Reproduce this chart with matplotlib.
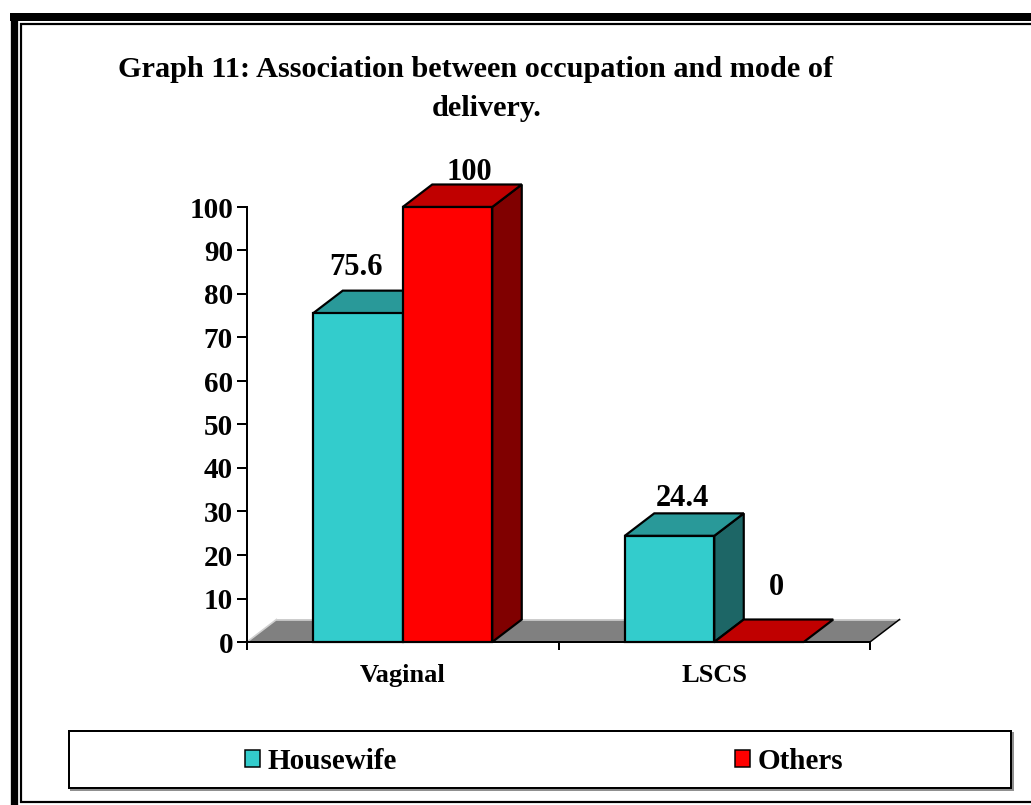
import matplotlib
matplotlib.use("Agg")
import matplotlib.pyplot as plt
from matplotlib.patches import Polygon, Rectangle, Patch
from matplotlib.lines import Line2D

# ---------------- data ----------------
title_lines = ["Graph 11: Association between occupation and mode of", "delivery."]
categories = ["Vaginal", "LSCS"]
series_names = ["Housewife", "Others"]
housewife = [75.6, 24.4]
others = [100, 0]
y_ticks = [0, 10, 20, 30, 40, 50, 60, 70, 80, 90, 100]

# ---------------- style ----------------
face_colors = ["#33CCCC", "#FF0000"]
top_colors = ["#299999", "#C00000"]
side_colors = ["#1D6666", "#800000"]
floor_color = "#808080"
# label offsets (pixels) relative to bar front-top centre, per series/category
label_dx = [[-2, 13], [22, 17]]
label_dy = [[38, 30], [27, 47]]

W, H = 1031, 805
plt.rcParams['font.family'] = ['Liberation Serif', 'DejaVu Serif']
plt.rcParams['font.weight'] = 'bold'
fig = plt.figure(figsize=(W / 100, H / 100), dpi=100)

# frame overlay axes in pixel coords
ov = fig.add_axes([0, 0, 1, 1])
ov.set_xlim(0, W)
ov.set_ylim(H, 0)
ov.axis('off')
px = 0.72  # points per pixel
ov.add_line(Line2D([13.7, 13.7], [13, H + 5], lw=7.3 * px, color='black', solid_capstyle='butt'))
ov.add_line(Line2D([10, W + 5], [17, 17], lw=8 * px, color='black', solid_capstyle='butt'))
ov.add_line(Line2D([21, 21], [23, 803], lw=2.2 * px, color='black', solid_capstyle='butt'))
ov.add_line(Line2D([20, W + 5], [24, 24], lw=2.2 * px, color='black', solid_capstyle='butt'))
ov.add_line(Line2D([20, W + 5], [802, 802], lw=2.2 * px, color='black', solid_capstyle='butt'))

# legend box with shadow
lx0, lx1, ly0, ly1 = 69, 1011, 731, 788
ov.add_patch(Rectangle((lx0 + 2, ly0 + 2), lx1 - lx0, ly1 - ly0, facecolor='none',
                       edgecolor='#909090', lw=2 * px))
ov.add_patch(Rectangle((lx0, ly0), lx1 - lx0, ly1 - ly0, facecolor='white',
                       edgecolor='black', lw=2 * px))

# title
ov.text(475.5, 77, title_lines[0], ha='center', va='baseline', fontsize=21.8, fontweight='bold')
ov.text(486.5, 116, title_lines[1], ha='center', va='baseline', fontsize=21.8, fontweight='bold')

# ---------------- main axes ----------------
ax_l, ax_r, ax_b, ax_t = 247, 870, 642, 207
ax = fig.add_axes([ax_l / W, 1 - ax_b / H, (ax_r - ax_l) / W, (ax_b - ax_t) / H])
n = len(categories)
ax.set_xlim(0, n)
ax.set_ylim(0, 100)
ax.patch.set_visible(False)
for s in ['top', 'right']:
    ax.spines[s].set_visible(False)
for s in ['left', 'bottom']:
    ax.spines[s].set_linewidth(2 * px)
    ax.spines[s].set_zorder(10)

ppx = (ax_r - ax_l) / n      # pixels per x unit
ppy = (ax_b - ax_t) / 100.0  # pixels per y unit
dx = 29.5 / ppx
dy = 22.5 / ppy
bw = 89.5 / ppx

# floor
ax.add_patch(Polygon([(0, 0), (n, 0), (n + dx, dy), (dx, dy)], closed=True,
                     facecolor=floor_color, edgecolor='none', zorder=1, clip_on=False))
ax.add_line(Line2D([dx, n + dx], [dy, dy], color='#D0D0D0', lw=1.2, zorder=1.5, clip_on=False))
ax.add_line(Line2D([0, dx], [0, dy], color='#D0D0D0', lw=1.2, zorder=1.5, clip_on=False))
ax.add_line(Line2D([n, n + dx], [0, dy], color='black', lw=1.5 * px, zorder=1.5, clip_on=False))

series = [housewife, others]
lw = 2.2 * px
for i in range(n):
    for j, vals in enumerate(series):
        v = vals[i]
        x0 = i + 0.5 - bw * len(series) / 2 + j * bw
        z = 3 + i * 3 + j
        if v > 0:
            ax.add_patch(Polygon([(x0 + bw, 0), (x0 + bw + dx, dy), (x0 + bw + dx, v + dy), (x0 + bw, v)],
                                 closed=True, facecolor=side_colors[j], edgecolor='black', lw=lw,
                                 zorder=z, clip_on=False, joinstyle='miter'))
        ax.add_patch(Polygon([(x0, v), (x0 + bw, v), (x0 + bw + dx, v + dy), (x0 + dx, v + dy)],
                             closed=True, facecolor=top_colors[j], edgecolor='black', lw=lw,
                             zorder=z, clip_on=False, joinstyle='miter'))
        if v > 0:
            ax.add_patch(Rectangle((x0, 0), bw, v, facecolor=face_colors[j], edgecolor='black', lw=lw,
                                   zorder=z, clip_on=False, joinstyle='miter'))
        ax.annotate(f"{v:g}", xy=(x0 + bw / 2, v), xytext=(label_dx[j][i], label_dy[j][i]),
                    textcoords='offset pixels', ha='center', va='baseline',
                    fontsize=22, fontweight='bold', zorder=20, annotation_clip=False)

ax.set_yticks(y_ticks)
ax.set_yticklabels([str(t) for t in y_ticks])
ax.tick_params(axis='y', direction='out', length=10 * px, width=2 * px, pad=4 * px, labelsize=21)
ax.set_xticks(list(range(n + 1)))
ax.set_xticklabels([''] * (n + 1))
ax.tick_params(axis='x', which='major', direction='out', length=8 * px, width=2 * px)
ax.set_xticks([i + 0.5 for i in range(n)], minor=True)
ax.set_xticklabels(categories, minor=True)
ax.tick_params(axis='x', which='minor', length=0, pad=22 * px, labelsize=19)

# legend entries
handles = [Patch(facecolor=face_colors[j], edgecolor='black', lw=1.5 * px) for j in range(len(series_names))]
fig.legend(handles, series_names, ncol=2, loc='center', bbox_to_anchor=(544 / W, 1 - 761 / H),
           frameon=False, fontsize=21, handlelength=0.52, handleheight=0.52,
           handletextpad=0.25, columnspacing=11.6, borderpad=0)

fig.savefig("out.png", dpi=100)
